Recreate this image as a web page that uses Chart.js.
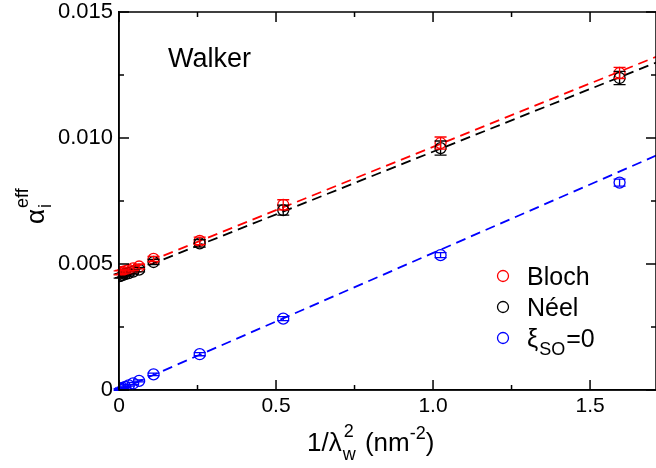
<!DOCTYPE html>
<html>
<head>
<meta charset="utf-8">
<script src="https://cdn.jsdelivr.net/npm/chart.js@4"></script>
<style>
  html, body { margin: 0; padding: 0; background: #fff; }
  canvas { display: block; }
</style>
</head>
<body>
<canvas id="c" width="656" height="468"></canvas>
<script>
// ---- data ----
const xDomainWall = [0.002, 0.006, 0.012, 0.020, 0.031, 0.045, 0.064, 0.110, 0.257, 0.523, 1.024, 1.594];
const blochY   = [0.00465, 0.00467, 0.00469, 0.00472, 0.00477, 0.00483, 0.00490, 0.00520, 0.00592, 0.00735, 0.00980, 0.01258];
const blochErr = [0.00008, 0.00008, 0.00008, 0.00008, 0.00008, 0.00009, 0.00009, 0.00010, 0.00015, 0.00020, 0.00024, 0.00022];
const neelY    = [0.00452, 0.00454, 0.00457, 0.00460, 0.00464, 0.00470, 0.00478, 0.00508, 0.00582, 0.00714, 0.00960, 0.01238];
const neelErr  = [0.00008, 0.00008, 0.00008, 0.00008, 0.00008, 0.00009, 0.00009, 0.00010, 0.00015, 0.00020, 0.00028, 0.00026];
const xSO0     = [0.002, 0.006, 0.012, 0.020, 0.031, 0.045, 0.064, 0.110, 0.257, 0.523, 1.024, 1.594];
const so0Y     = [0.00002, 0.00005, 0.00008, 0.00012, 0.00018, 0.00026, 0.00036, 0.00062, 0.00142, 0.00283, 0.00535, 0.00823];
const so0Err   = [0.00003, 0.00003, 0.00003, 0.00003, 0.00003, 0.00004, 0.00004, 0.00005, 0.00006, 0.00008, 0.00010, 0.00014];
// dashed fit lines (end points)
const fitX      = [0, 1.71];
const blochFitY = [0.00462, 0.01322];
const neelFitY  = [0.00448, 0.01299];
const so0FitY   = [0.0, 0.00930];
// axes
const xMajorTicks = [0, 0.5, 1.0, 1.5];
const xMinorTicks = [0.25, 0.75, 1.25];
const yMajorTicks = [0, 0.005, 0.010, 0.015];
const yMinorTicks = [0.0025, 0.0075, 0.0125];
const seriesNames = ['Bloch', 'Néel', 'ξ'];
const panelLabel = 'Walker';

const RED = '#ff0000', BLK = '#000000', BLU = '#0000ff';
const FONT = '"Liberation Sans", Arial, Helvetica, sans-serif';

const pts = (xs, ys) => xs.map((x, i) => ({x: x, y: ys[i]}));

function lineDs(ys, color) {
  return { type: 'line', data: pts(fitX, ys), borderColor: color, borderWidth: 1.8,
    borderDash: [10, 6], pointRadius: 0, fill: false, showLine: true, order: 10 };
}
function ptDs(xs, ys, err, color, label) {
  return { type: 'scatter', label: label, data: pts(xs, ys), errs: err,
    borderColor: color, backgroundColor: 'rgba(0,0,0,0)', pointRadius: 5.5,
    pointBorderWidth: 1.3, pointStyle: 'circle', showLine: false, order: 1 };
}

const errorBars = {
  id: 'errorBars',
  afterDatasetsDraw(chart) {
    const ctx = chart.ctx, ys = chart.scales.y;
    chart.data.datasets.forEach((ds, i) => {
      if (!ds.errs) return;
      const meta = chart.getDatasetMeta(i);
      ctx.save();
      ctx.strokeStyle = ds.borderColor;
      ctx.lineWidth = 1.3;
      meta.data.forEach((el, j) => {
        const v = ds.data[j].y, e = ds.errs[j];
        const x = el.x, y1 = ys.getPixelForValue(v + e), y2 = ys.getPixelForValue(v - e);
        ctx.beginPath();
        ctx.moveTo(x, y1); ctx.lineTo(x, y2);
        ctx.moveTo(x - 6, y1); ctx.lineTo(x + 6, y1);
        ctx.moveTo(x - 6, y2); ctx.lineTo(x + 6, y2);
        ctx.stroke();
      });
      ctx.restore();
    });
  }
};

const frame = {
  id: 'frame',
  afterDraw(chart) {
    const ctx = chart.ctx, a = chart.chartArea, xs = chart.scales.x, ys = chart.scales.y;
    ctx.save();
    ctx.strokeStyle = '#000'; ctx.lineWidth = 1.5;
    ctx.strokeRect(a.left, a.top, a.right - a.left, a.bottom - a.top);
    ctx.beginPath();
    const tick = (vals, len) => {
      vals.forEach(v => {
        const px = xs.getPixelForValue(v);
        ctx.moveTo(px, a.bottom); ctx.lineTo(px, a.bottom - len);
        ctx.moveTo(px, a.top); ctx.lineTo(px, a.top + len);
      });
    };
    const ytick = (vals, len) => {
      vals.forEach(v => {
        const py = ys.getPixelForValue(v);
        ctx.moveTo(a.left, py); ctx.lineTo(a.left + len, py);
        ctx.moveTo(a.right, py); ctx.lineTo(a.right - len, py);
      });
    };
    tick(xMajorTicks, 10); tick(xMinorTicks, 5);
    ytick(yMajorTicks, 10); ytick(yMinorTicks, 5);
    ctx.stroke();

    // panel label
    ctx.fillStyle = '#000';
    ctx.textBaseline = 'alphabetic';
    ctx.textAlign = 'left';
    ctx.font = '27px ' + FONT;
    ctx.fillText(panelLabel, 168, 67);

    // x-axis title: 1/λ_w^2 (nm^-2)
    const big = '26px ' + FONT, small = '18px ' + FONT;
    const base = 451;
    let x = 307;
    ctx.font = big; ctx.fillText('1/λ', x, base); x += ctx.measureText('1/λ').width;
    ctx.font = small;
    ctx.fillText('w', x + 1, base + 9);
    ctx.fillText('2', x + 2, base - 14);
    x += Math.max(ctx.measureText('w').width, ctx.measureText('2').width) + 3;
    ctx.font = big; ctx.fillText(' (nm', x, base); x += ctx.measureText(' (nm').width;
    ctx.font = small; ctx.fillText('-2', x, base - 12); x += ctx.measureText('-2').width;
    ctx.font = big; ctx.fillText(')', x, base);

    // y-axis title: α_i^eff (rotated)
    ctx.save();
    ctx.translate(44, 224);
    ctx.rotate(-Math.PI / 2);
    ctx.font = big; ctx.fillText('α', 0, 0);
    const wa = ctx.measureText('α').width;
    ctx.font = small;
    ctx.fillText('i', wa + 1, 7);
    ctx.fillText('eff', wa + 1, -16);
    ctx.restore();

    // legend
    const items = [[RED, seriesNames[0]], [BLK, seriesNames[1]], [BLU, seriesNames[2]]];
    items.forEach((it, k) => {
      const cy = 276 + k * 31;
      ctx.strokeStyle = it[0]; ctx.lineWidth = 1.3;
      ctx.beginPath(); ctx.arc(503, cy, 5.5, 0, Math.PI * 2); ctx.stroke();
      ctx.fillStyle = '#000';
      ctx.font = '25px ' + FONT;
      ctx.fillText(it[1], 527, cy + 9);
      if (k === 2) {
        let lx = 527 + ctx.measureText(it[1]).width + 1;
        ctx.font = small; ctx.fillText('SO', lx, cy + 17);
        lx += ctx.measureText('SO').width + 1;
        ctx.font = '25px ' + FONT; ctx.fillText('=0', lx, cy + 9);
      }
    });
    ctx.restore();
  }
};

new Chart(document.getElementById('c'), {
  type: 'scatter',
  data: {
    datasets: [
      lineDs(so0FitY, BLU),
      lineDs(neelFitY, BLK),
      lineDs(blochFitY, RED),
      ptDs(xSO0, so0Y, so0Err, BLU, 'ξSO=0'),
      ptDs(xDomainWall, neelY, neelErr, BLK, 'Néel'),
      ptDs(xDomainWall, blochY, blochErr, RED, 'Bloch')
    ]
  },
  options: {
    responsive: false,
    devicePixelRatio: 1,
    animation: false,
    layout: { autoPadding: false, padding: { top: 12, right: -2, left: 0, bottom: 0 } },
    plugins: { legend: { display: false }, tooltip: { enabled: false } },
    scales: {
      x: {
        type: 'linear', min: 0, max: 1.71,
        afterFit(s) { s.height = 78; s.paddingLeft = 0; s.paddingRight = 0; },
        afterBuildTicks(s) { s.ticks = xMajorTicks.map(v => ({value: v})); },
        grid: { display: true, drawOnChartArea: false, drawTicks: false },
        border: { display: true, color: '#000', width: 1.5 },
        ticks: { color: '#000', padding: 4, maxRotation: 0, autoSkip: false,
          font: { family: FONT, size: 21 },
          callback: v => v === 0 ? '0' : v.toFixed(1) }
      },
      y: {
        type: 'linear', min: 0, max: 0.015,
        afterFit(s) { s.width = 119; s.paddingTop = 0; s.paddingBottom = 0; },
        afterBuildTicks(s) { s.ticks = yMajorTicks.map(v => ({value: v})); },
        grid: { display: true, drawOnChartArea: false, drawTicks: false },
        border: { display: true, color: '#000', width: 1.5 },
        ticks: { color: '#000', padding: 6, autoSkip: false,
          font: { family: FONT, size: 22 },
          callback: v => v === 0 ? '0' : v.toFixed(3) }
      }
    }
  },
  plugins: [errorBars, frame]
});
</script>
</body>
</html>
